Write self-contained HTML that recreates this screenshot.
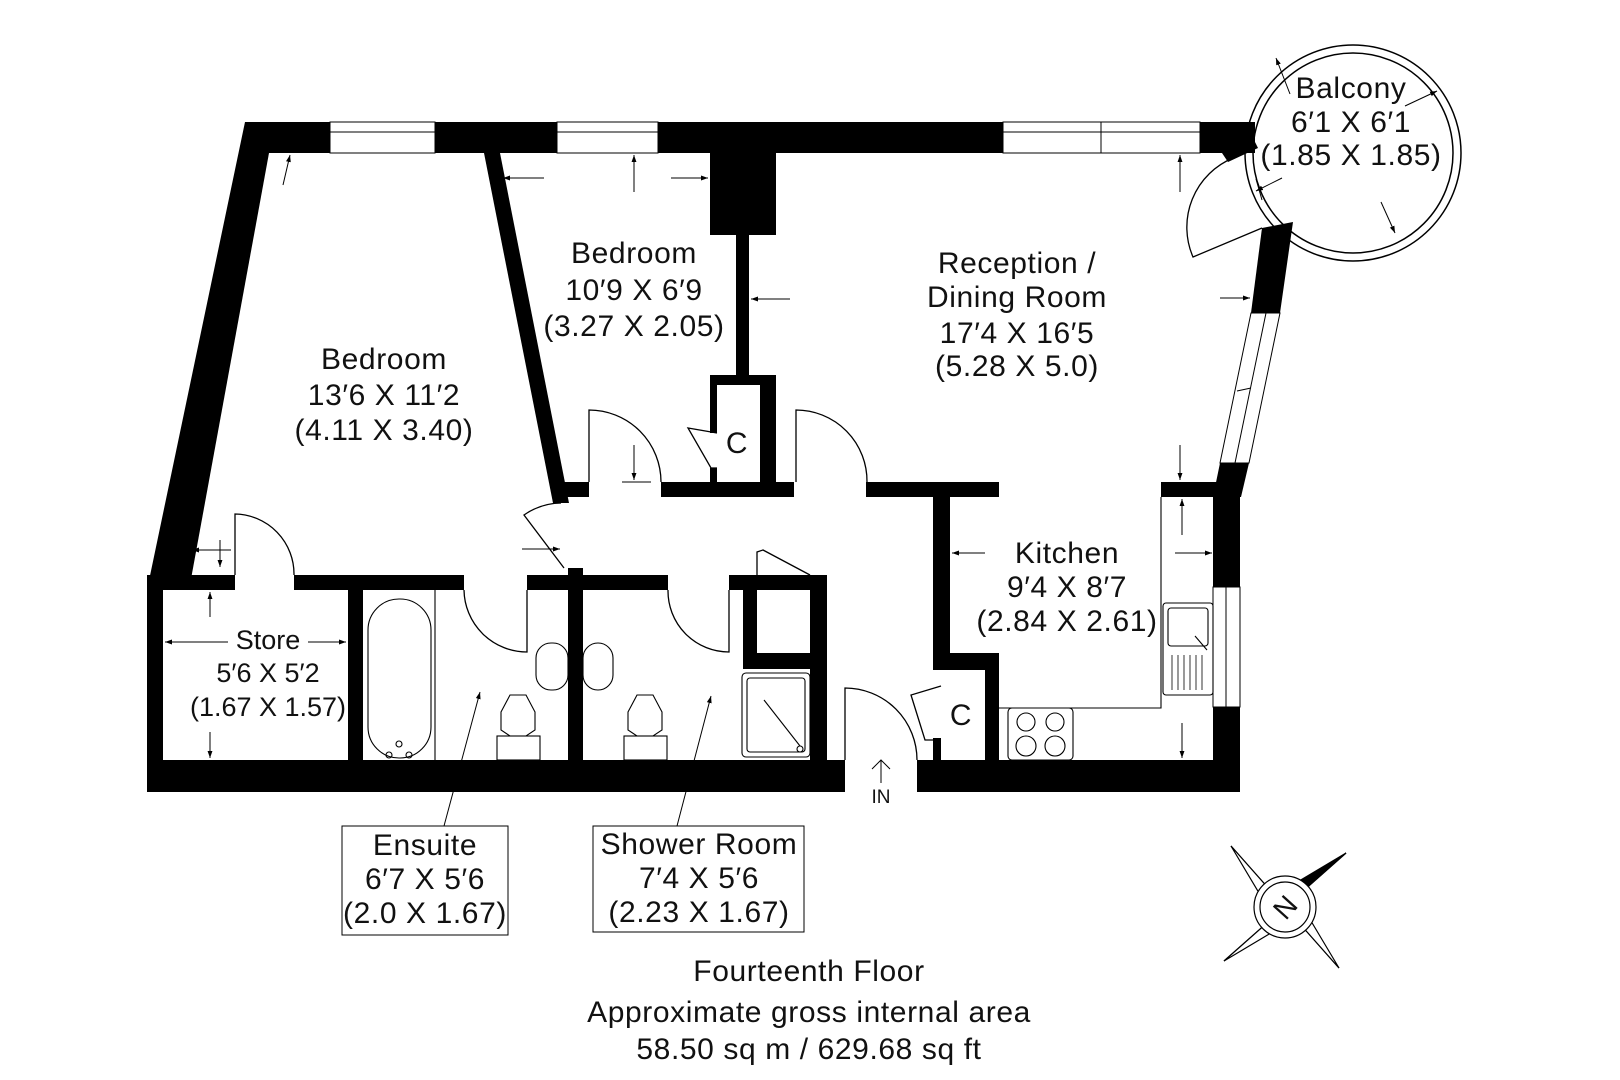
<!DOCTYPE html>
<html><head><meta charset="utf-8"><style>
html,body{margin:0;padding:0;background:#fff;}
svg{display:block;}
text{font-family:"Liberation Sans",sans-serif;fill:#111;}
</style></head><body>
<svg width="1620" height="1080" viewBox="0 0 1620 1080" xmlns="http://www.w3.org/2000/svg">
<defs>
<marker id="ah" viewBox="0 0 10 10" refX="10" refY="5" markerWidth="7" markerHeight="7" orient="auto-start-reverse"><path d="M0,1.5 L10,5 L0,8.5 Z" fill="#000"/></marker>
</defs>

<circle cx="1353" cy="153" r="108" fill="none" stroke="#000" stroke-width="1.5"/>
<circle cx="1353" cy="153" r="100" fill="none" stroke="#000" stroke-width="1.5"/>
<path d="M1262,228 L1193,257 A75,75 0 0,1 1233,158 L1262,228 Z" fill="#fff" stroke="none"/>
<path d="M1262,228 L1193,257 A75,75 0 0,1 1233,158" fill="none" stroke="#000" stroke-width="1.3"/>

<g fill="#000">
<rect x="245" y="122" width="1010" height="31"/>
<polygon points="1200,122 1245,122 1258,148 1228,162 1222,153 1200,153"/>
<polygon points="245,122 270,122 269,153 189,590 147,590"/>
<rect x="147" y="575" width="16" height="217"/>
<rect x="147" y="575" width="88" height="15"/>
<rect x="294" y="575" width="170" height="15"/>
<rect x="527" y="575" width="141" height="15"/>
<rect x="729" y="575" width="98" height="15"/>
<rect x="348" y="590" width="15" height="170"/>
<rect x="568" y="568" width="15" height="192"/>
<rect x="743" y="590" width="14" height="79"/>
<rect x="743" y="653" width="84" height="16"/>
<rect x="810" y="575" width="17" height="185"/>
<rect x="147" y="760" width="698" height="32"/>
<rect x="917" y="760" width="323" height="32"/>
<polygon points="484,153 500,153 569,503 553,503"/>
<rect x="562" y="482" width="27" height="15"/>
<rect x="661" y="482" width="133" height="15"/>
<rect x="866" y="482" width="133" height="15"/>
<rect x="1161" y="482" width="79" height="15"/>
<rect x="710" y="122" width="66" height="113"/>
<rect x="736" y="235" width="13" height="150"/>
<rect x="710" y="375" width="66" height="10"/>
<rect x="760" y="375" width="16" height="122"/>
<rect x="710" y="385" width="7" height="48"/>
<rect x="710" y="468" width="7" height="29"/>
<rect x="933" y="497" width="17" height="173"/>
<rect x="933" y="653" width="66" height="17"/>
<rect x="985" y="670" width="14" height="90"/>
<rect x="933" y="738" width="8" height="22"/>
<polygon points="1262,228 1293,222 1280,313 1251,313"/>
<polygon points="1220,463 1249,463 1241,497 1213,497"/>
<rect x="1213" y="482" width="27" height="105"/>
<rect x="1213" y="707" width="27" height="85"/>
</g>

<g fill="#fff" stroke="#000" stroke-width="1">
<rect x="330" y="122" width="105" height="31"/>
<rect x="557" y="122" width="101" height="31"/>
<rect x="1003" y="122" width="197" height="31"/>
<polygon points="1251,313 1280,313 1249,463 1220,463"/>
<rect x="1213" y="587" width="27" height="120"/>
</g>
<g stroke="#000" stroke-width="1" fill="none">
<line x1="330" y1="132" x2="435" y2="132"/>
<line x1="557" y1="132" x2="658" y2="132"/>
<line x1="1003" y1="132" x2="1200" y2="132"/>
<line x1="1101" y1="122" x2="1101" y2="153"/>
<line x1="1266" y1="313" x2="1235" y2="463"/>
<line x1="1251" y1="388" x2="1237" y2="391"/>
<line x1="1226" y1="587" x2="1226" y2="707"/>
</g>

<g stroke="#000" stroke-width="1.3" fill="none">
<path d="M589,482 L589,410 A72,72 0 0,1 661,482"/>
<path d="M796,482 L796,410 A71,71 0 0,1 867,482"/>
<path d="M235,575 L235,514 A60,60 0 0,1 294,575"/>
<path d="M564,568 L524,515 A66,66 0 0,1 561,503"/>
<path d="M527,590 L527,652 A63,63 0 0,1 464,590"/>
<path d="M729,590 L729,652 A61,61 0 0,1 668,590"/>
<path d="M845,760 L845,688 A72,72 0 0,1 917,760"/>
<polyline points="757,575 757,552 763,550 810,575"/>
<polyline points="941,686 911,695 925,740 933,740"/>
<polyline points="717,433 688,428 711,468 717,468"/>
</g>

<g stroke="#000" stroke-width="1.1" fill="none">
<line x1="435" y1="590" x2="435" y2="760"/>
<rect x="368" y="599" width="63" height="159" rx="31"/>
<circle cx="399" cy="744" r="3"/><circle cx="389" cy="755" r="3"/><circle cx="409" cy="755" r="3"/>
<rect x="536" y="643" width="32" height="47" rx="15"/>
<rect x="583" y="643" width="30" height="47" rx="15"/>
<rect x="497" y="736" width="43" height="24"/>
<polygon points="510,695 526,695 535,712 535,730 526,736 510,736 501,730 501,712"/>
<rect x="624" y="736" width="43" height="24"/>
<polygon points="637,695 653,695 662,712 662,730 653,736 637,736 628,730 628,712"/>
<rect x="742" y="673" width="68" height="84" rx="4"/>
<rect x="747" y="678" width="58" height="74" rx="3"/>
<line x1="764" y1="700" x2="800" y2="746"/>
<circle cx="800" cy="749" r="3"/>
<polyline points="1161,497 1161,708 999,708"/>
<rect x="1163" y="603" width="50" height="92" rx="3"/>
<rect x="1168" y="608" width="40" height="38" rx="3"/>
<line x1="1195" y1="636" x2="1207" y2="650"/>
<g stroke-width="0.8">
<line x1="1172" y1="655" x2="1172" y2="690"/><line x1="1178" y1="655" x2="1178" y2="690"/><line x1="1184" y1="655" x2="1184" y2="690"/><line x1="1190" y1="655" x2="1190" y2="690"/><line x1="1196" y1="655" x2="1196" y2="690"/><line x1="1202" y1="655" x2="1202" y2="690"/>
</g>
<rect x="1008" y="708" width="65" height="52" rx="4"/>
<circle cx="1026" cy="722" r="9"/><circle cx="1055" cy="722" r="9"/>
<circle cx="1026" cy="746" r="10"/><circle cx="1055" cy="746" r="10"/>
</g>

<g stroke="#000" stroke-width="1" marker-end="url(#ah)">
<line x1="283" y1="185" x2="290" y2="155"/>
<line x1="544" y1="178" x2="503" y2="178"/>
<line x1="634" y1="192" x2="634" y2="155"/>
<line x1="671" y1="178" x2="708" y2="178"/>
<line x1="790" y1="299" x2="751" y2="299"/>
<line x1="1180" y1="192" x2="1180" y2="155"/>
<line x1="1180" y1="445" x2="1180" y2="480"/>
<line x1="1220" y1="298" x2="1250" y2="298"/>
<line x1="985" y1="553" x2="952" y2="553"/>
<line x1="1175" y1="553" x2="1212" y2="553"/>
<line x1="1182" y1="535" x2="1182" y2="499"/>
<line x1="1182" y1="723" x2="1182" y2="758"/>
<line x1="228" y1="642" x2="165" y2="642"/>
<line x1="308" y1="642" x2="346" y2="642"/>
<line x1="210" y1="617" x2="210" y2="592"/>
<line x1="210" y1="732" x2="210" y2="758"/>
<line x1="231" y1="550" x2="192" y2="550"/>
<line x1="220" y1="540" x2="220" y2="567"/>
<line x1="522" y1="549" x2="560" y2="549"/>
<line x1="634" y1="445" x2="634" y2="480"/>
<line x1="1290" y1="94" x2="1276" y2="58"/>
<line x1="1405" y1="106" x2="1437" y2="91"/>
<line x1="1282" y1="178" x2="1256" y2="191"/>
<line x1="1381" y1="202" x2="1395" y2="233"/>
<line x1="444" y1="826" x2="480" y2="692"/>
<line x1="677" y1="826" x2="711" y2="696"/>
</g>
<g stroke="#000" stroke-width="1">
<line x1="622" y1="482" x2="651" y2="482"/>
<line x1="1256" y1="179" x2="1262" y2="200"/>
<line x1="881" y1="760" x2="881" y2="783"/>
<polyline points="872,769 881,760 890,769" fill="none"/>
</g>

<g font-size="30" text-anchor="middle" letter-spacing="0.6">
<text x="634" y="263">Bedroom</text>
<text x="634" y="300">10′9 X 6′9</text>
<text x="634" y="336">(3.27 X 2.05)</text>
<text x="384" y="369">Bedroom</text>
<text x="384" y="405">13′6 X 11′2</text>
<text x="384" y="440">(4.11 X 3.40)</text>
<text x="1017" y="273">Reception /</text>
<text x="1017" y="307">Dining Room</text>
<text x="1017" y="343">17′4 X 16′5</text>
<text x="1017" y="376">(5.28 X 5.0)</text>
<text x="1351" y="98">Balcony</text>
<text x="1351" y="132">6′1 X 6′1</text>
<text x="1351" y="165">(1.85 X 1.85)</text>
<text x="1067" y="563">Kitchen</text>
<text x="1067" y="597">9′4 X 8′7</text>
<text x="1067" y="631">(2.84 X 2.61)</text>
<g font-size="27" letter-spacing="0">
<text x="268" y="649">Store</text>
<text x="268" y="682">5′6 X 5′2</text>
<text x="268" y="716">(1.67 X 1.57)</text>
</g>
<text x="737" y="453">C</text>
<text x="961" y="725">C</text>
<text x="881" y="803" font-size="19" letter-spacing="0">IN</text>
<text x="425" y="855">Ensuite</text>
<text x="425" y="889">6′7 X 5′6</text>
<text x="425" y="923">(2.0 X 1.67)</text>
<text x="699" y="854">Shower Room</text>
<text x="699" y="888">7′4 X 5′6</text>
<text x="699" y="922">(2.23 X 1.67)</text>
<text x="809" y="981">Fourteenth Floor</text>
<text x="809" y="1022">Approximate gross internal area</text>
<text x="809" y="1059">58.50 sq m / 629.68 sq ft</text>
</g>
<rect x="342" y="826" width="166" height="109" fill="none" stroke="#000" stroke-width="1"/>
<rect x="593" y="826" width="211" height="106" fill="none" stroke="#000" stroke-width="1"/>

<g transform="translate(1285,907)" stroke="#000" stroke-width="1.2">
<polygon points="0,0 -54,-61 -14,-14" fill="#fff"/>
<polygon points="0,0 -54,-61 -20,-4" fill="#fff"/>
<polygon points="0,0 -61,54 -14,14" fill="#fff"/>
<polygon points="0,0 -61,54 -4,20" fill="#fff"/>
<polygon points="0,0 54,61 14,14" fill="#fff"/>
<polygon points="0,0 54,61 20,4" fill="#fff"/>
<polygon points="0,0 61,-54 14,-14" fill="#000"/>
<polygon points="0,0 61,-54 4,-20" fill="#000"/>
<circle r="31" fill="#fff"/>
<circle r="25" fill="#fff"/>
<text x="0" y="10" font-size="28" text-anchor="middle" transform="rotate(-48)" stroke="none">N</text>
</g>
</svg>
</body></html>
